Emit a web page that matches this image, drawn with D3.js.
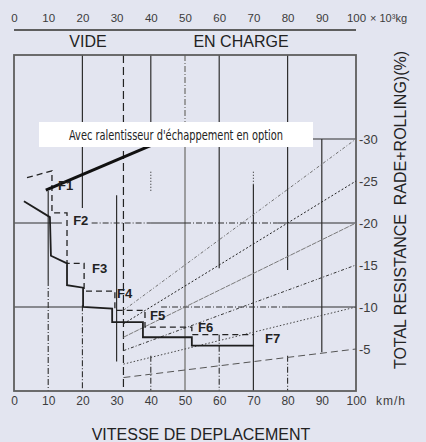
<!DOCTYPE html>
<html>
<head>
<meta charset="utf-8">
<script src="https://cdn.jsdelivr.net/npm/d3@7"></script>
<style>
  html, body { margin: 0; padding: 0; background: #e3e5f0; }
  svg { display: block; font-family: "Liberation Sans", Arial, sans-serif; }
  .axis path, .axis line { display: none; }
  .axis text { fill: #3c3c3c; }
</style>
</head>
<body>
<div id="svg-container"></div>
<script>
////////////////////////////  Data  ////////////////////////////
const weightTicks = [0, 10, 20, 30, 40, 50, 60, 70, 80, 90, 100]; // x 10^3 kg
const speedTicks = [0, 10, 20, 30, 40, 50, 60, 70, 80, 90, 100]; // km/h
const resistTicks = [5, 10, 15, 20, 25, 30]; // %
const grades = [30, 25, 20, 15, 10, 5]; // lignes de resistance totale
const emptyWeight = 32; // VIDE (x 10^3 kg)

// ralentisseur (trait epais)
const retarderSpeed = [9.3, 48];
const retarderRes = [23.9, 30.6];

// courbe F1..F7 trait plein
const solidSpeed = [2.9, 10.5, 10.8, 15.5, 15.5, 20.2, 20.2, 28.7, 28.7, 37.7, 37.7, 52.0, 52.0, 70.2];
const solidRes = [22.6, 20.7, 16.1, 15.2, 12.6, 12.3, 10.0, 9.8, 8.2, 8.2, 6.4, 6.4, 5.4, 5.4];

// courbe F1..F7 pointillee
const dashedSpeed = [3.8, 11.1, 11.1, 15.5, 15.5, 20.5, 20.5, 29.5, 29.5, 38.3, 38.3, 52.0, 52.0, 70.2];
const dashedRes = [25.4, 26.2, 21.2, 21.2, 15.2, 15.2, 11.9, 11.9, 9.6, 9.6, 7.6, 7.6, 6.7, 6.7];

const gears = ["F1", "F2", "F3", "F4", "F5", "F6", "F7"];
const gearSpeed = [12.9, 17.3, 22.8, 30.1, 39.8, 53.8, 73.4];
const gearRes = [23.9, 19.8, 14.0, 11.1, 8.45, 7.0, 5.7];

// quadrillage: [vitesse, de %, a %]
const vSolid = [[10, 23.8, 13.2], [20, 40, 21.8], [30, 23.3, 3.5], [40, 40, 31], [50, 30, 0], [60, 40, 14.6], [70, 24.6, 0], [80, 40, 14.4], [90, 30, 4.6]];
const vDashDot = [[10, 13.2, 0], [20, 10.2, 0], [40, 4.2, 0], [50, 40, 30], [60, 6.7, 0], [80, 4.2, 0]];
const vDotted = [[40, 26.1, 23.6], [70, 26.1, 24.6]];
// [%, de vitesse, a vitesse]
const hSolid = [[30, 60, 100], [20, 0, 14], [20, 40, 50], [20, 77, 100], [10, 0, 20], [10, 80, 100]];
const hDashDot = [[20, 22.7, 40], [20, 50, 77], [10, 43, 80]];

////////////////////////////  Init  ////////////////////////////
const width = 426;
const height = 442;
const margin = { top: 55, right: 70, bottom: 51, left: 14 };

const svg = d3.select("#svg-container").append("svg")
  .attr("width", width).attr("height", height);

svg.append("rect").attr("width", width).attr("height", height).attr("fill", "#e3e5f0");

const xScale = d3.scaleLinear().domain([0, 100]).range([margin.left, width - margin.right]);
const wScale = d3.scaleLinear().domain([0, 100]).range([margin.left, width - margin.right]);
const yScale = d3.scaleLinear().domain([0, 40]).range([height - margin.bottom, margin.top]);

const line = d3.line().x((d) => xScale(d[0])).y((d) => yScale(d[1]));
const zip = (a, b) => a.map((v, i) => [v, b[i]]);

const ink = "#2f2f2f";

// grille verticale
const drawV = (segs, dash, color, w) => {
  svg.append("g").selectAll("line").data(segs).join("line")
    .attr("x1", (d) => xScale(d[0])).attr("x2", (d) => xScale(d[0]))
    .attr("y1", (d) => yScale(d[1])).attr("y2", (d) => yScale(d[2]))
    .attr("stroke", (d) => (d[0] === 50 ? "#8a8a8a" : color))
    .attr("stroke-width", (d) => (d[0] === 50 ? 1.6 : w))
    .attr("stroke-dasharray", dash);
};
const drawH = (segs, dash, color, w) => {
  svg.append("g").selectAll("line").data(segs).join("line")
    .attr("x1", (d) => xScale(d[1])).attr("x2", (d) => xScale(d[2]))
    .attr("y1", (d) => yScale(d[0])).attr("y2", (d) => yScale(d[0]))
    .attr("stroke", color).attr("stroke-width", w)
    .attr("stroke-dasharray", dash);
};
drawV(vSolid, null, ink, 1.2);
drawV(vDashDot, "6,2,1,2", ink, 1.1);
drawV(vDotted, "1,2", ink, 1.1);
drawH(hSolid, null, ink, 1.2);
drawH(hDashDot, "6,2,1,2", ink, 1.1);

// ligne VIDE
svg.append("line")
  .attr("x1", xScale(emptyWeight)).attr("x2", xScale(emptyWeight))
  .attr("y1", yScale(40)).attr("y2", yScale(0))
  .attr("stroke", "#222").attr("stroke-width", 1.2)
  .attr("stroke-dasharray", "8,4");

// cadre
svg.append("rect")
  .attr("x", xScale(0)).attr("y", yScale(40))
  .attr("width", xScale(100) - xScale(0)).attr("height", yScale(0) - yScale(40))
  .attr("fill", "none").attr("stroke", "#5e5e5e").attr("stroke-width", 1.8);

// lignes de resistance (poids x %)
const gradeStyle = {
  30: ["#707070", "3,2,1,2"], 25: ["#222", "2,2"], 20: ["#7a7a7a", "5,1"],
  15: ["#333", "3,2,1,2"], 10: ["#444", "1.5,2"], 5: ["#555", "7,4"]
};
svg.append("g").selectAll("path").data(grades).join("path")
  .attr("d", (g) => line([[emptyWeight, g * emptyWeight / 100], [100, g]]))
  .attr("fill", "none")
  .attr("stroke", (g) => gradeStyle[g][0])
  .attr("stroke-dasharray", (g) => gradeStyle[g][1])
  .attr("stroke-width", 1);

// courbes F
svg.append("path").datum(zip(dashedSpeed, dashedRes))
  .attr("d", line).attr("fill", "none")
  .attr("stroke", "#222").attr("stroke-width", 1.3).attr("stroke-dasharray", "6,4");

svg.append("path").datum(zip(solidSpeed, solidRes))
  .attr("d", line).attr("fill", "none")
  .attr("stroke", "#1e1e1e").attr("stroke-width", 1.8);

svg.append("path").datum(zip(retarderSpeed, retarderRes))
  .attr("d", line).attr("fill", "none")
  .attr("stroke", "#111").attr("stroke-width", 3);

svg.append("g").selectAll("text").data(gears).join("text")
  .attr("x", (d, i) => xScale(gearSpeed[i]))
  .attr("y", (d, i) => yScale(gearRes[i]))
  .attr("font-size", 13).attr("font-weight", "bold").attr("fill", "#222")
  .text((d) => d);

// encadre ralentisseur
svg.append("rect").attr("x", 39).attr("y", 122).attr("width", 274).attr("height", 25).attr("fill", "#fff");
svg.append("text")
  .attr("x", 176).attr("y", 140)
  .attr("text-anchor", "middle")
  .attr("font-family", '"Liberation Sans Narrow", "DejaVu Sans Condensed", sans-serif')
  .attr("font-size", 13.5).attr("fill", "#222")
  .attr("textLength", 214).attr("lengthAdjust", "spacingAndGlyphs")
  .text("Avec ralentisseur d'échappement en option");

////////////////////////////  Axes  ////////////////////////////
svg.append("g").attr("class", "axis")
  .attr("transform", "translate(0,22)")
  .style("font-size", "11.5px")
  .call(d3.axisTop(wScale).tickValues(weightTicks).tickSize(0).tickPadding(0))
  .call((g) => g.select(".domain").remove());

svg.append("line")
  .attr("x1", wScale(0)).attr("x2", wScale(100)).attr("y1", 30).attr("y2", 30)
  .attr("stroke", "#5e5e5e").attr("stroke-width", 1.8);

svg.append("text").attr("x", 370).attr("y", 22).attr("font-size", 11).attr("fill", "#3c3c3c")
  .text("× 10³kg");

svg.append("text").attr("x", 88).attr("y", 47).attr("text-anchor", "middle")
  .attr("font-size", 16).attr("fill", "#222").text("VIDE");
svg.append("text").attr("x", 241).attr("y", 47).attr("text-anchor", "middle")
  .attr("font-size", 16).attr("fill", "#222").text("EN CHARGE");

svg.append("g").attr("class", "axis")
  .attr("transform", `translate(0,${height - margin.bottom})`)
  .style("font-size", "12px")
  .call(d3.axisBottom(xScale).tickValues(speedTicks).tickSize(0).tickPadding(5))
  .call((g) => g.select(".domain").remove());

svg.append("text").attr("x", 376).attr("y", 405).attr("font-size", 12)
  .attr("letter-spacing", 1).attr("fill", "#3c3c3c").text("km/h");

svg.append("g").attr("class", "axis")
  .attr("transform", `translate(${width - margin.right},0)`)
  .style("font-size", "13px")
  .call(d3.axisRight(yScale).tickValues(resistTicks).tickSize(0).tickPadding(3).tickFormat((d) => "-" + d))
  .call((g) => g.select(".domain").remove());

svg.append("text")
  .attr("transform", "translate(406,210) rotate(-90)")
  .attr("text-anchor", "middle").attr("font-size", 16).attr("fill", "#222")
  .attr("xml:space", "preserve").style("white-space", "pre")
  .text("TOTAL RESISTANCE  RADE+ROLLING)(%)");

svg.append("text").attr("x", 201).attr("y", 440).attr("text-anchor", "middle")
  .attr("font-size", 16).attr("fill", "#222").text("VITESSE DE DEPLACEMENT");
</script>
</body>
</html>
